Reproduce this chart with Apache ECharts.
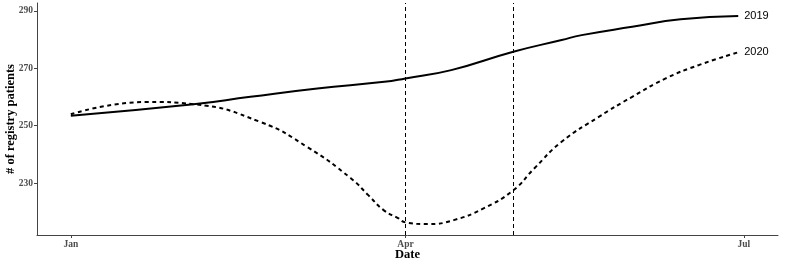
<!DOCTYPE html>
<html><head><meta charset="utf-8">
<script src="https://cdn.jsdelivr.net/npm/echarts@6/dist/echarts.min.js"></script>
<style>html,body{margin:0;padding:0;background:#fff}#c{width:790px;height:263px}</style>
</head><body><div id="c"></div>
<script>
// days since Jan 1
const days2019 = [0, 33, 48.3, 66.3, 84.3, 90, 102.3, 119, 132, 137.4, 151, 164, 179.5];
const vals2019 = [253.5, 257.5, 260.1, 263.0, 265.3, 266.5, 269.4, 275.8, 279.9, 281.6, 284.5, 287.1, 288.3];
const days2020 = [0, 20.5, 33, 51, 63.7, 75.3, 80, 84.2, 88, 90, 96, 103, 111, 119, 124.7, 132, 142, 151, 160, 169, 179.5];
const vals2020 = [254, 258.3, 257.5, 251.3, 242.5, 231.7, 225.8, 220.5, 217.8, 216.3, 215.7, 217.1, 221.2, 227.5, 235.2, 244.4, 253.1, 260.1, 266.5, 271.2, 275.6];
const xTickDays = [0, 90, 181];
const xTickLabels = ['Jan', 'Apr', 'Jul'];
const yTicks = [230, 250, 270, 290];
const vLineDays = [90, 119];
const seriesNames = ['2019', '2020'];

const chart = echarts.init(document.getElementById('c'));
const zip = (a, b) => a.map((d, i) => [d, b[i]]);
const serif = 'Liberation Serif';
chart.setOption({
  animation: false,
  grid: { left: 37, right: 12, top: 3, bottom: 28, containLabel: false, outerBoundsMode: 'none' },
  xAxis: {
    type: 'value', min: -9.1, max: 190.2,
    name: 'Date', nameLocation: 'middle', nameGap: 13, nameMoveOverlap: false,
    nameTextStyle: { fontFamily: serif, fontWeight: 'bold', fontSize: 12.5, color: '#000' },
    splitLine: { show: false },
    axisLine: { onZero: false, lineStyle: { color: '#444', width: 1 } },
    axisTick: { customValues: xTickDays, length: 3, lineStyle: { color: '#444' } },
    axisLabel: { customValues: xTickDays, margin: 5, fontFamily: serif, fontWeight: 'bold', fontSize: 9.5, color: '#4d4d4d',
      formatter: v => xTickLabels[xTickDays.indexOf(v)] }
  },
  yAxis: {
    type: 'value', min: 211.9, max: 292.8,
    name: '# of registry patients', nameLocation: 'middle', nameGap: 20, nameRotate: 90, nameMoveOverlap: false,
    nameTextStyle: { fontFamily: serif, fontWeight: 'bold', fontSize: 12.5, color: '#000' },
    splitLine: { show: false },
    axisLine: { show: true, onZero: false, lineStyle: { color: '#444', width: 1 } },
    axisTick: { show: true, customValues: yTicks, length: 3, lineStyle: { color: '#444' } },
    axisLabel: { customValues: yTicks, margin: 4, fontFamily: serif, fontWeight: 'bold', fontSize: 9.5, color: '#4d4d4d' }
  },
  series: [
    {
      name: seriesNames[0], type: 'line', data: zip(days2019, vals2019), smooth: 0.5, symbol: 'none',
      lineStyle: { color: '#000', width: 2 },
      endLabel: { show: true, formatter: seriesNames[0], distance: 6, fontFamily: 'Liberation Sans', fontSize: 11, color: '#000' },
      markLine: {
        silent: true, symbol: 'none', label: { show: false },
        lineStyle: { color: '#000', type: [4, 3], width: 1 },
        data: vLineDays.map(d => ({ xAxis: d }))
      }
    },
    {
      name: seriesNames[1], type: 'line', data: zip(days2020, vals2020), smooth: 0.5, symbol: 'none',
      lineStyle: { color: '#000', width: 2, type: [4, 3.5] },
      endLabel: { show: true, formatter: seriesNames[1], distance: 6, fontFamily: 'Liberation Sans', fontSize: 11, color: '#000' }
    }
  ]
});
</script></body></html>
